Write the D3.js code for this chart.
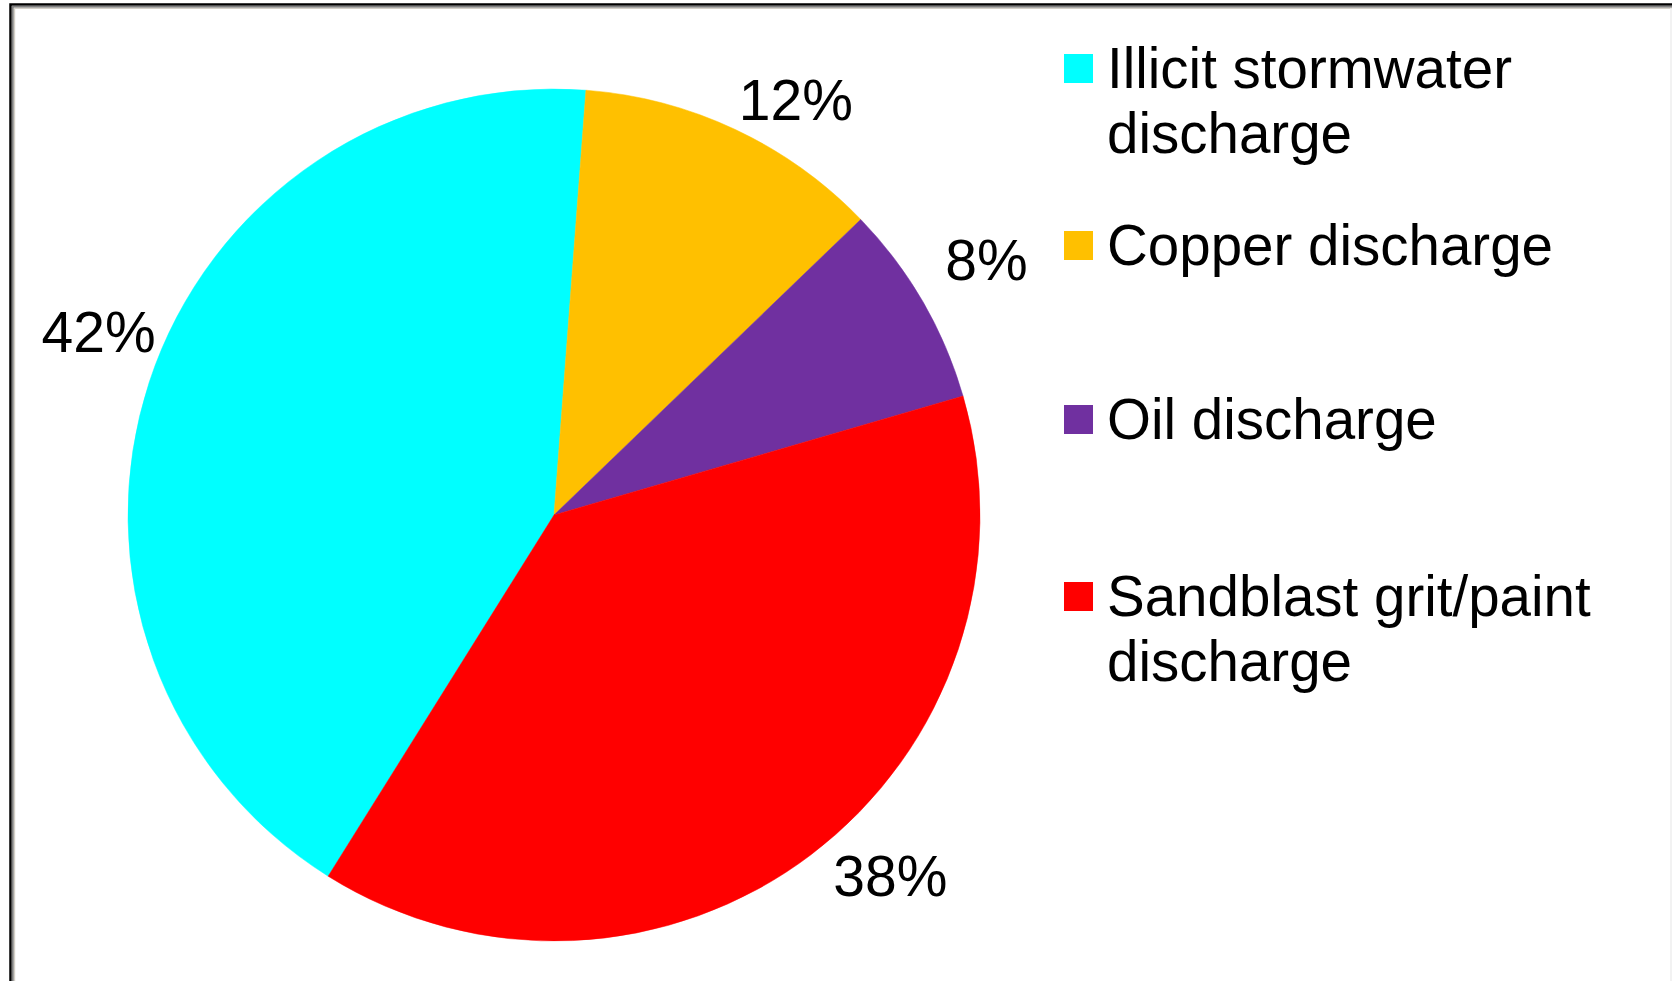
<!DOCTYPE html>
<html>
<head>
<meta charset="utf-8">
<script src="https://cdnjs.cloudflare.com/ajax/libs/d3/7.8.5/d3.min.js"></script>
<style>
  html, body { margin: 0; padding: 0; background: #fff; }
  svg { display: block; font-family: "Liberation Sans", Arial, sans-serif; }
</style>
</head>
<body>
<script>
// data
var categories = ['Illicit stormwater discharge', 'Copper discharge', 'Oil discharge', 'Sandblast grit/paint discharge']
var legendLines = [['Illicit stormwater', 'discharge'], ['Copper discharge'], ['Oil discharge'], ['Sandblast grit/paint', 'discharge']]
var values = [42.3, 11.6, 7.7, 38.4]
var labels = ['42%', '12%', '8%', '38%']
var colors = ['#00ffff', '#ffc000', '#7030a0', '#ff0000']

var width = 1672, height = 981
var cx = 554, cy = 515, radius = 426

var svg = d3.select('body').append('svg')
    .attr('width', width)
    .attr('height', height)

// frame (inset look)
var frame = svg.append('g')
frame.append('path').attr('d', 'M10.5,' + height + 'V4.5H' + width).attr('fill', 'none').attr('stroke', '#000').attr('stroke-width', 2.5)
frame.append('path').attr('d', 'M12.8,' + height + 'V6.8H' + width).attr('fill', 'none').attr('stroke', '#808080').attr('stroke-width', 2)
frame.append('path').attr('d', 'M14.5,' + height + 'V8.4H' + width).attr('fill', 'none').attr('stroke', '#d4d0c8').attr('stroke-width', 1.4)
frame.append('line').attr('x1', width - 1).attr('x2', width - 1).attr('y1', 8).attr('y2', height)
    .attr('stroke', '#eeeeee').attr('stroke-width', 1.5)

// Illicit stormwater begins where the red slice ends
var startDeg = 360 - 360 * values[0] / 100 + 4.3
var pie = d3.pie().sort(null).value(function(d){ return d })
    .startAngle(startDeg * Math.PI / 180)
    .endAngle((startDeg + 360) * Math.PI / 180)

var arc = d3.arc().innerRadius(0).outerRadius(radius)

var arcs = pie(values)

var g = svg.append('g').attr('transform', 'translate(' + cx + ',' + cy + ')')
g.selectAll('path.slice')
    .data(arcs)
    .enter().append('path')
    .attr('class', 'slice')
    .attr('d', arc)
    .attr('fill', function(d, i){ return colors[i] })
    .attr('stroke', function(d, i){ return colors[i] })
    .attr('stroke-width', 0.5)

// percentage labels sit outside the rim
var labelArc = d3.arc().innerRadius(radius * 1.13).outerRadius(radius * 1.13)
var labelNudge = [[2, -28], [37, 26], [16, -9], [46, -18]]
g.selectAll('text.pct')
    .data(arcs)
    .enter().append('text')
    .attr('class', 'pct')
    .attr('x', function(d, i){ return labelArc.centroid(d)[0] + labelNudge[i][0] })
    .attr('y', function(d, i){ return labelArc.centroid(d)[1] + labelNudge[i][1] })
    .attr('text-anchor', 'middle')
    .attr('dominant-baseline', 'middle')
    .attr('font-size', 57)
    .attr('fill', '#000')
    .text(function(d, i){ return labels[i] })

// legend
var legendTop = [54, 231, 405, 582]
var legend = svg.append('g')
var items = legend.selectAll('g.item')
    .data(categories)
    .enter().append('g')
    .attr('class', 'item')
    .attr('transform', function(d, i){ return 'translate(1064,' + legendTop[i] + ')' })

items.append('rect')
    .attr('width', 29).attr('height', 29)
    .attr('fill', function(d, i){ return colors[i] })

items.each(function(d, i){
    var t = d3.select(this).append('text')
        .attr('x', 43).attr('y', 34)
        .attr('font-size', 56.5)
        .attr('fill', '#000')
    legendLines[i].forEach(function(line, j){
        t.append('tspan').attr('x', 43).attr('dy', j == 0 ? 0 : 65).text(line)
    })
})
</script>
</body>
</html>
